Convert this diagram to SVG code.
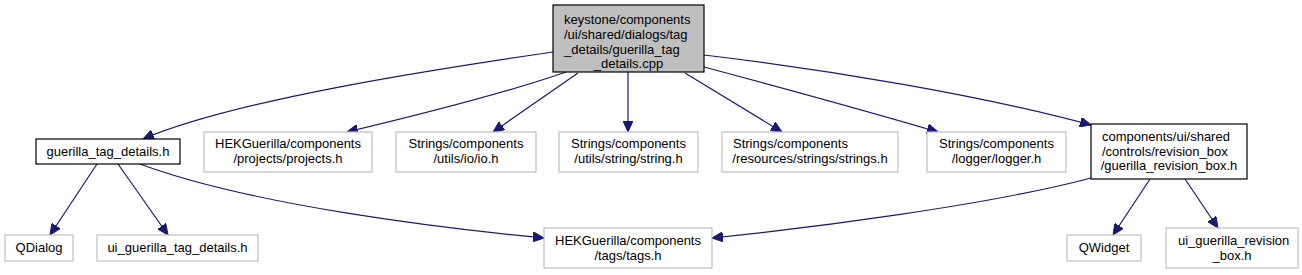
<svg xmlns="http://www.w3.org/2000/svg" width="1302" height="275" viewBox="0 0 1302 275">
<style>
.n{fill:#ffffff;stroke:#000000;stroke-width:1.2}
.g{fill:#ffffff;stroke:#bfbfbf;stroke-width:1.2}
.r{fill:#bfbfbf;stroke:#000000;stroke-width:1.2}
text{font-family:"Liberation Sans",Arial,sans-serif;font-size:13px;fill:#000000}
.c{text-anchor:middle}
.e{fill:none;stroke:#191970;stroke-width:1.2;marker-end:url(#ah)}
</style>
<defs>
<marker id="ah" markerUnits="userSpaceOnUse" markerWidth="12" markerHeight="10" refX="11" refY="5" orient="auto">
<path d="M0,0 L11,5 L0,10 Z" fill="#191970" stroke="#191970"/>
</marker>
</defs>
<rect width="1302" height="275" fill="#ffffff"/>
<g id="edges">
<path class="e" d="M553,52 C430,70 235,100 143,139"/>
<path class="e" d="M566,72 C500,95 410,117 347,132"/>
<path class="e" d="M578,73 L493,132"/>
<path class="e" d="M628,72 L628,132"/>
<path class="e" d="M685,73 L782,132"/>
<path class="e" d="M704,67 C790,90 880,115 938,132"/>
<path class="e" d="M704,55 C830,70 980,95 1091,125"/>
<path class="e" d="M97,164 L50,235"/>
<path class="e" d="M118,164 L168,235"/>
<path class="e" d="M140,164 C250,205 440,228 544,238"/>
<path class="e" d="M1091,178 C990,205 810,228 712,238"/>
<path class="e" d="M1150,179 L1113,235"/>
<path class="e" d="M1185,179 L1218,228"/>
</g>
<g id="root">
<rect class="r" x="553" y="5" width="151" height="67"/>
<text x="564" y="24">keystone/components</text>
<text x="564" y="39">/ui/shared/dialogs/tag</text>
<text x="564" y="54">_details/guerilla_tag</text>
<text class="c" x="628.5" y="68">_details.cpp</text>
</g>
<g id="guerilla_tag_details_h">
<rect class="n" x="36" y="139" width="144" height="25"/>
<text class="c" x="108" y="156">guerilla_tag_details.h</text>
</g>
<g id="projects_h">
<rect class="g" x="204" y="132" width="168" height="40"/>
<text class="c" x="288" y="148">HEKGuerilla/components</text>
<text class="c" x="288" y="163">/projects/projects.h</text>
</g>
<g id="io_h">
<rect class="g" x="396" y="132" width="140" height="40"/>
<text class="c" x="466" y="148">Strings/components</text>
<text class="c" x="466" y="163">/utils/io/io.h</text>
</g>
<g id="string_h">
<rect class="g" x="559" y="132" width="139" height="40"/>
<text class="c" x="628.5" y="148">Strings/components</text>
<text class="c" x="628.5" y="163">/utils/string/string.h</text>
</g>
<g id="strings_h">
<rect class="g" x="722" y="132" width="176" height="40"/>
<text x="733" y="148">Strings/components</text>
<text class="c" x="810" y="163">/resources/strings/strings.h</text>
</g>
<g id="logger_h">
<rect class="g" x="927" y="132" width="139" height="40"/>
<text class="c" x="996.5" y="148">Strings/components</text>
<text class="c" x="996.5" y="163">/logger/logger.h</text>
</g>
<g id="guerilla_revision_box_h">
<rect class="n" x="1091" y="124" width="156" height="55"/>
<text x="1102" y="141">components/ui/shared</text>
<text x="1102" y="156">/controls/revision_box</text>
<text class="c" x="1169" y="170">/guerilla_revision_box.h</text>
</g>
<g id="QDialog">
<rect class="g" x="5" y="235" width="68" height="26"/>
<text class="c" x="39" y="252">QDialog</text>
</g>
<g id="ui_guerilla_tag_details_h">
<rect class="g" x="97" y="235" width="161" height="26"/>
<text class="c" x="177.5" y="252">ui_guerilla_tag_details.h</text>
</g>
<g id="tags_h">
<rect class="g" x="544" y="228" width="168" height="40"/>
<text class="c" x="628" y="245">HEKGuerilla/components</text>
<text class="c" x="628" y="260">/tags/tags.h</text>
</g>
<g id="QWidget">
<rect class="g" x="1067" y="235" width="74" height="26"/>
<text class="c" x="1104" y="252">QWidget</text>
</g>
<g id="ui_guerilla_revision_box_h">
<rect class="g" x="1166" y="228" width="132" height="40"/>
<text x="1178" y="245">ui_guerilla_revision</text>
<text class="c" x="1232" y="260">_box.h</text>
</g>
</svg>
